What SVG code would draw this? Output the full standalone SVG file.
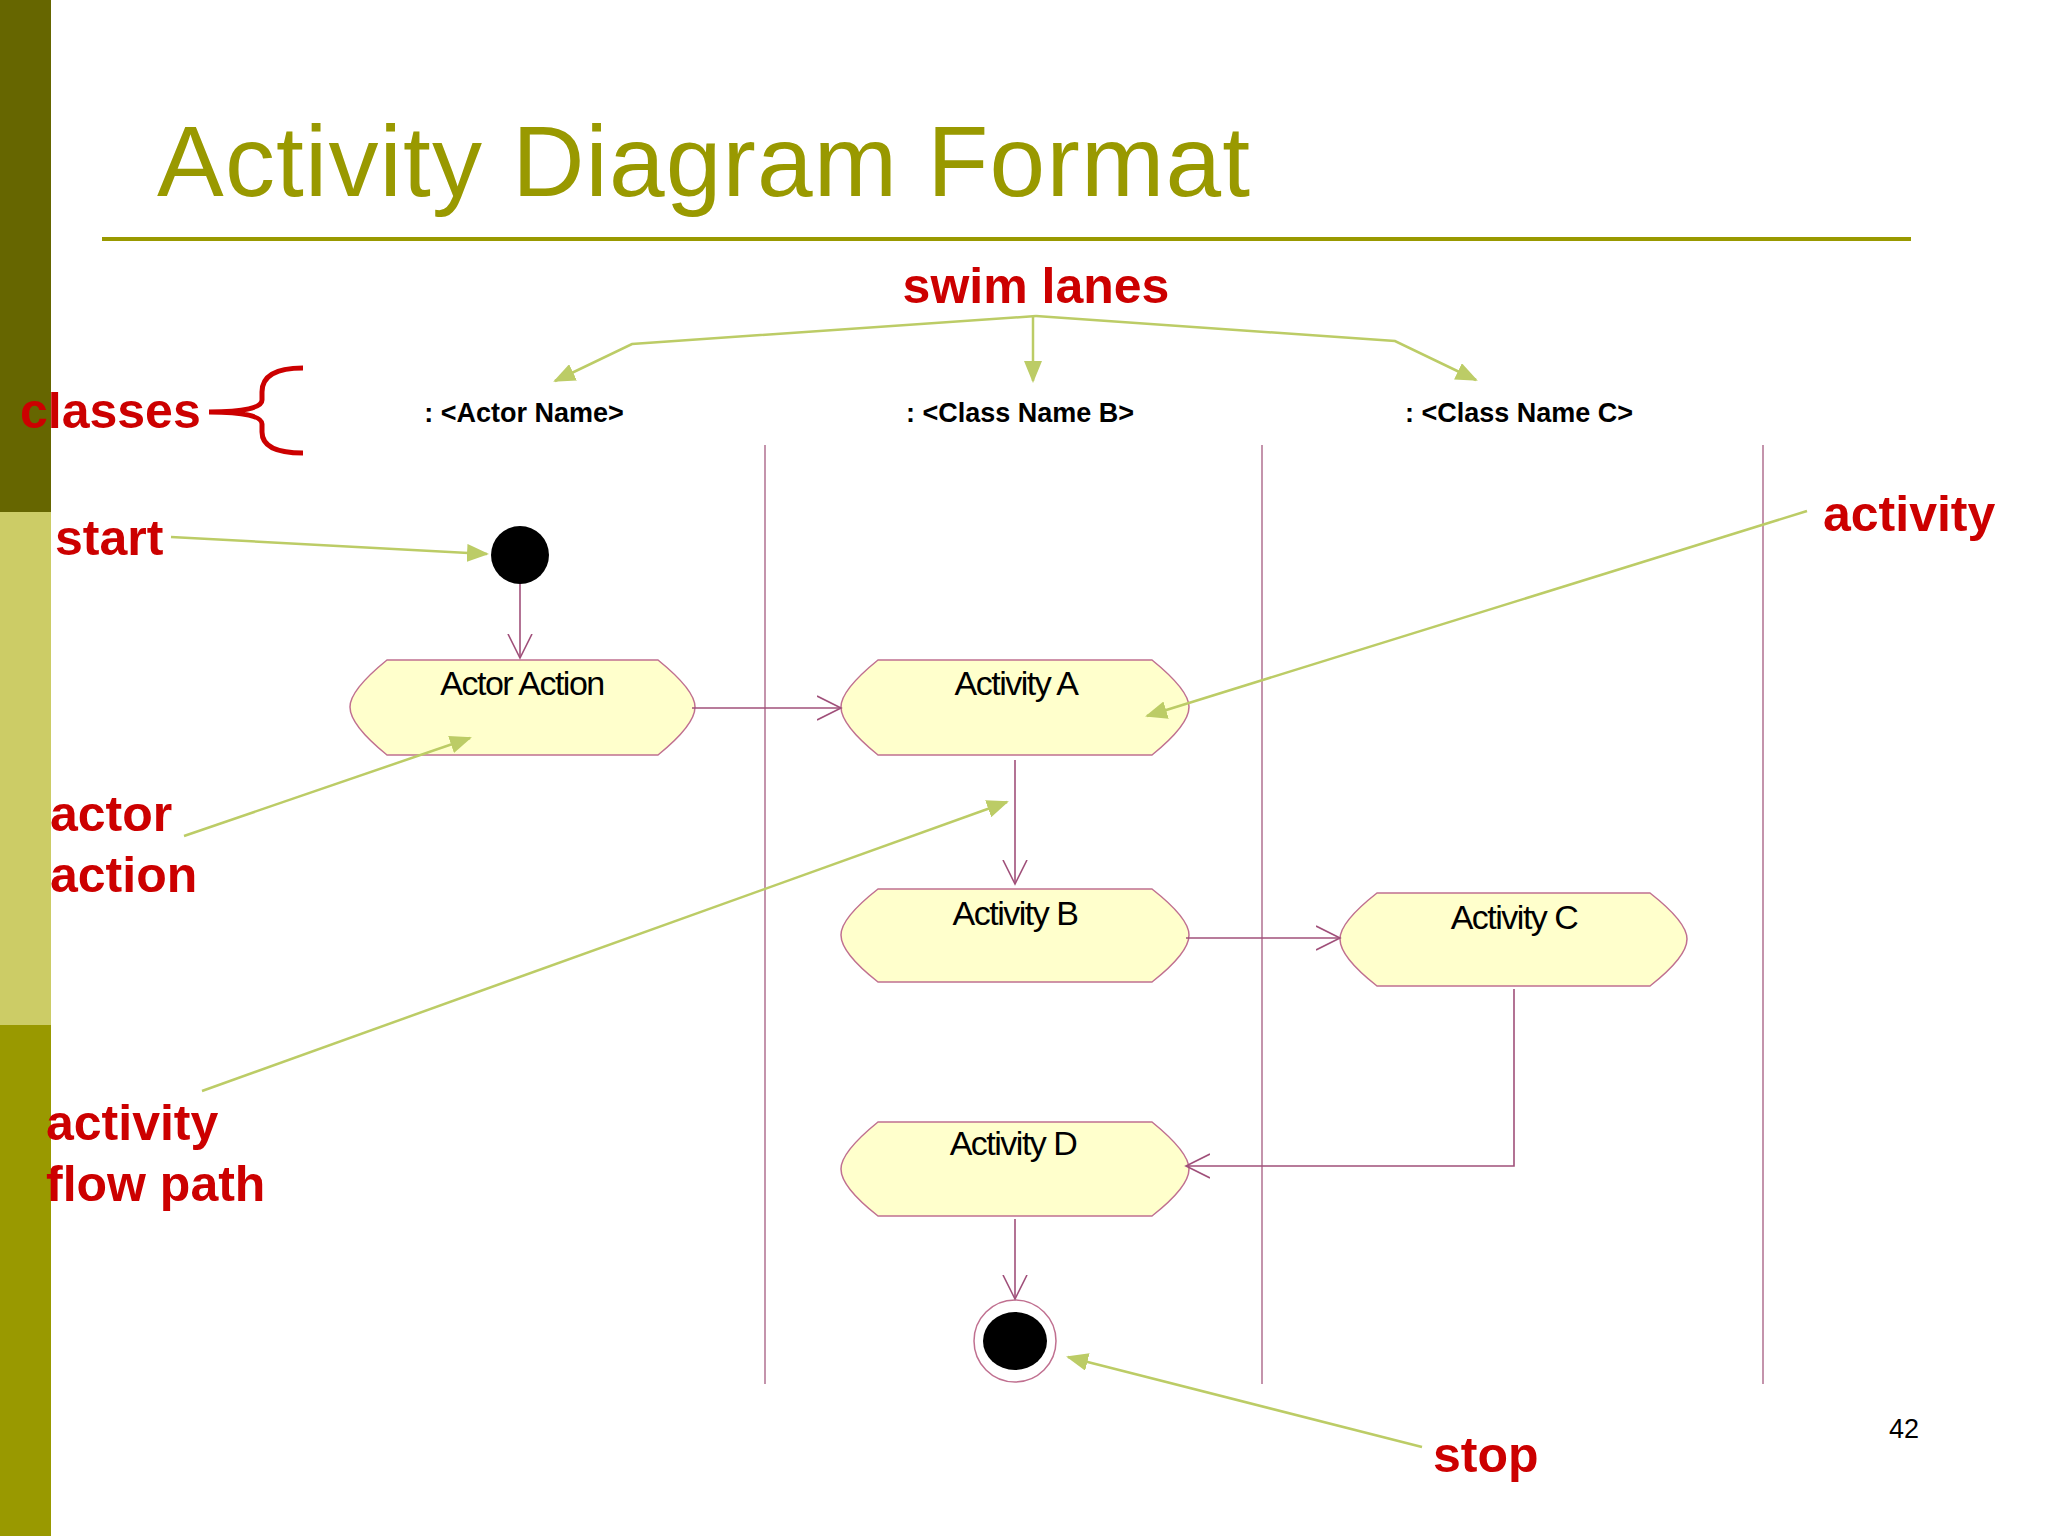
<svg xmlns="http://www.w3.org/2000/svg" width="2048" height="1536" viewBox="0 0 2048 1536">
<style>
.red{font-family:"Liberation Sans",Arial,sans-serif;font-weight:bold;fill:#cc0000;font-size:50px}
.cls{font-family:"Liberation Sans",Arial,sans-serif;font-weight:bold;fill:#000;font-size:27px;text-anchor:middle}
.nt{font-family:"Liberation Sans",Arial,sans-serif;fill:#000;font-size:34px;text-anchor:middle;letter-spacing:-1.5px}
.node{fill:#ffffcc;stroke:#c07090;stroke-width:1.5}
.flow{fill:none;stroke:#a0507a;stroke-width:1.6}
.lane{stroke:#b07090;stroke-width:1.5}
.ann{fill:none;stroke:#bccc66;stroke-width:2.5}
</style>
<defs>
<marker id="open" markerUnits="userSpaceOnUse" markerWidth="30" markerHeight="30" refX="24" refY="12" orient="auto" viewBox="0 0 30 24">
<path d="M0,0 L24,12 L0,24" fill="none" stroke="#a0507a" stroke-width="1.6"/>
</marker>
<marker id="tri" markerUnits="userSpaceOnUse" markerWidth="22" markerHeight="18" refX="20" refY="9" orient="auto" viewBox="0 0 22 18">
<path d="M0,0 L22,9 L0,18 Z" fill="#bccc66"/>
</marker>
</defs>
<rect width="2048" height="1536" fill="#fff"/>
<rect x="0" y="0" width="51" height="512" fill="#666600"/>
<rect x="0" y="512" width="51" height="513" fill="#cccc66"/>
<rect x="0" y="1025" width="51" height="511" fill="#999900"/>
<text x="157" y="196" font-family="'Liberation Sans',Arial,sans-serif" font-size="100" fill="#999900" textLength="1093">Activity Diagram Format</text>
<line x1="102" y1="239" x2="1911" y2="239" stroke="#999900" stroke-width="4"/>
<text class="red" x="1036" y="303" text-anchor="middle">swim lanes</text>
<text class="red" x="20" y="428">classes</text>
<text class="red" x="55" y="555">start</text>
<text class="red" x="1823" y="531">activity</text>
<text class="red" x="50" y="831">actor</text>
<text class="red" x="50" y="892">action</text>
<text class="red" x="46" y="1140">activity</text>
<text class="red" x="46" y="1201">flow path</text>
<text class="red" x="1433" y="1472">stop</text>
<text x="1889" y="1438" font-family="'Liberation Sans',Arial,sans-serif" font-size="27" fill="#000">42</text>
<path d="M303,368 Q262,368 262,392 L262,400 Q262,412 209,412 Q262,412 262,424 L262,432 Q262,453 303,453" fill="none" stroke="#cc0000" stroke-width="5"/>
<g id="headers">
<text class="cls" x="524" y="422">: &lt;Actor Name&gt;</text>
<text class="cls" x="1020" y="422">: &lt;Class Name B&gt;</text>
<text class="cls" x="1519" y="422">: &lt;Class Name C&gt;</text>
</g>
<g id="lanes">
<line class="lane" x1="765" y1="445" x2="765" y2="1384"/>
<line class="lane" x1="1262" y1="445" x2="1262" y2="1384"/>
<line class="lane" x1="1763" y1="445" x2="1763" y2="1384"/>
</g>
<g id="start"><circle cx="520" cy="555" r="29" fill="#000"/></g>
<g id="actor-action"><path class="node" d="M387,660 H658 Q695,690 695,707 Q695,725 658,755 H387 Q350,725 350,707 Q350,690 387,660 Z"/><text class="nt" x="522" y="695">Actor Action</text></g>
<g id="activity-a"><path class="node" d="M878,660 H1152 Q1189,690 1189,707 Q1189,725 1152,755 H878 Q841,725 841,707 Q841,690 878,660 Z"/><text class="nt" x="1016" y="695">Activity A</text></g>
<g id="activity-b"><path class="node" d="M878,889 H1152 Q1189,918 1189,935 Q1189,953 1152,982 H878 Q841,953 841,935 Q841,918 878,889 Z"/><text class="nt" x="1015" y="925">Activity B</text></g>
<g id="activity-c"><path class="node" d="M1377,893 H1650 Q1687,922 1687,939 Q1687,957 1650,986 H1377 Q1340,957 1340,939 Q1340,922 1377,893 Z"/><text class="nt" x="1514" y="929">Activity C</text></g>
<g id="activity-d"><path class="node" d="M878,1122 H1152 Q1189,1152 1189,1169 Q1189,1187 1152,1216 H878 Q841,1187 841,1169 Q841,1152 878,1122 Z"/><text class="nt" x="1013" y="1155">Activity D</text></g>
<g id="end"><circle cx="1015" cy="1341" r="41" fill="#fff" stroke="#c07090" stroke-width="1.5"/><ellipse cx="1015" cy="1341" rx="32" ry="29" fill="#000"/></g>
<g id="connectors">
<line class="flow" x1="520" y1="584" x2="520" y2="658" marker-end="url(#open)"/>
<line class="flow" x1="692" y1="708" x2="841" y2="708" marker-end="url(#open)"/>
<line class="flow" x1="1015" y1="760" x2="1015" y2="884" marker-end="url(#open)"/>
<line class="flow" x1="1186" y1="938" x2="1340" y2="938" marker-end="url(#open)"/>
<polyline class="flow" points="1514,989 1514,1166 1186,1166" marker-end="url(#open)"/>
<line class="flow" x1="1015" y1="1219" x2="1015" y2="1299" marker-end="url(#open)"/>
</g>
<g id="annotations">
<polyline class="ann" points="1036,316 632,344 555,381" marker-end="url(#tri)"/>
<line class="ann" x1="1033" y1="316" x2="1033" y2="381" marker-end="url(#tri)"/>
<polyline class="ann" points="1036,316 1395,341 1476,380" marker-end="url(#tri)"/>
<line class="ann" x1="171" y1="537" x2="487" y2="554" marker-end="url(#tri)"/>
<line class="ann" x1="1807" y1="511" x2="1147" y2="716" marker-end="url(#tri)"/>
<line class="ann" x1="184" y1="836" x2="470" y2="738" marker-end="url(#tri)"/>
<line class="ann" x1="202" y1="1091" x2="1007" y2="802" marker-end="url(#tri)"/>
<line class="ann" x1="1422" y1="1447" x2="1068" y2="1357" marker-end="url(#tri)"/>
</g>
</svg>
